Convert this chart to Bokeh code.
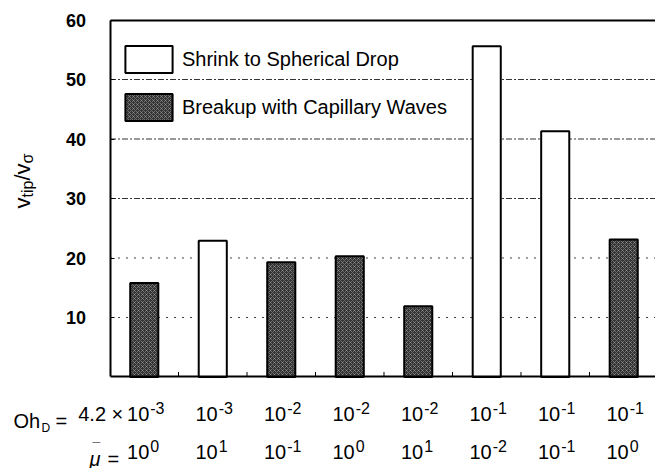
from math import pi
from bokeh.plotting import figure
from bokeh.core.properties import value
from bokeh.models import (ColumnDataSource, Range1d, FixedTicker, LinearAxis, Legend,
                          LegendItem, LabelSet, Label)
from bokeh.embed import file_html
from bokeh.resources import INLINE

# ---------------- data ----------------
SHRINK = "Shrink to Spherical Drop"
BREAK = "Breakup with Capillary Waves"
oh_coef = ["4.2 ×", "", "", "", "", "", "", ""]
oh_exp = ["-3", "-3", "-2", "-2", "-2", "-1", "-1", "-1"]
mu_exp = ["0", "1", "-1", "0", "1", "-2", "-1", "0"]
v_ratio = [15.8, 22.9, 19.3, 20.3, 11.9, 55.6, 41.3, 23.1]
outcome = [BREAK, SHRINK, BREAK, BREAK, BREAK, SHRINK, SHRINK, BREAK]
y_ticks = [10, 20, 30, 40, 50, 60]

n = len(v_ratio)
xs = [i + 0.5 for i in range(n)]
bounds = list(range(1, n))


def subset(kind):
    idx = [i for i in range(n) if outcome[i] == kind]
    return ColumnDataSource(dict(x=[xs[i] for i in idx], top=[v_ratio[i] for i in idx]))


FONT = "Liberation Sans"
XB = (0, n)
YB = (0, y_ticks[-1])

p = figure(width=655, height=468, output_backend="svg", toolbar_location=None,
           x_range=Range1d(-1.599, 7.964), y_range=Range1d(-15.38, 63.28),
           min_border=0, x_axis_type=None, y_axis_type=None)
p.outline_line_color = None
p.background_fill_color = "white"
p.border_fill_color = "white"

# grid lines (limited to the plotting box)
major_g = y_ticks[2:5]
minor_g = y_ticks[:2]
p.segment(x0=[XB[0]] * len(major_g), x1=[XB[1]] * len(major_g), y0=major_g, y1=major_g,
          line_color="#333333", line_dash="6 2 2 2", line_width=1, level="underlay")
p.segment(x0=[XB[0]] * len(minor_g), x1=[XB[1]] * len(minor_g), y0=minor_g, y1=minor_g,
          line_color="#444444", line_dash="2 6", line_width=1, level="underlay")

# inward ticks on the bottom axis, between the bars
p.segment(x0=bounds, x1=bounds, y0=[0] * len(bounds), y1=[0.85] * len(bounds),
          line_color="black", line_width=1)

# axes (placed inside the frame at fixed data locations)
yax = LinearAxis(ticker=FixedTicker(ticks=y_ticks), fixed_location=0, bounds=YB,
                 axis_line_width=2, axis_line_color="black",
                 major_tick_in=4, major_tick_out=0, major_tick_line_color="black",
                 minor_tick_line_color=None,
                 major_label_text_font=FONT, major_label_text_font_style="bold",
                 major_label_text_font_size="18px", major_label_text_color="black",
                 major_label_standoff=24)
p.add_layout(yax, "left")

xax = LinearAxis(ticker=FixedTicker(ticks=[]), fixed_location=0, bounds=XB,
                 axis_line_width=2, axis_line_color="black",
                 major_tick_in=0, major_tick_out=0, minor_tick_line_color=None,
                 major_label_standoff=0)
p.add_layout(xax, "below")

tax = LinearAxis(ticker=FixedTicker(ticks=[]), fixed_location=y_ticks[-1], bounds=XB,
                 axis_line_width=2, axis_line_color="black",
                 major_tick_in=0, major_tick_out=0, minor_tick_line_color=None,
                 major_label_standoff=0)
p.add_layout(tax, "above")

# bars
r_s = p.vbar(x="x", top="top", width=0.41, source=subset(SHRINK), fill_color="white",
             line_color="black", line_width=2)
r_b = p.vbar(x="x", top="top", width=0.41, source=subset(BREAK), fill_color="#333333",
             line_color="black", line_width=2, hatch_pattern="x", hatch_color="#c8c8c8",
             hatch_scale=4, hatch_weight=0.8, hatch_alpha=0.5)

legend = Legend(items=[LegendItem(label=SHRINK, renderers=[r_s]),
                       LegendItem(label=BREAK, renderers=[r_b])],
                location=(119, 344), glyph_width=59, glyph_height=34, label_standoff=4,
                spacing=14, padding=0, margin=0, border_line_color=None,
                background_fill_alpha=0, label_text_font=FONT, label_text_font_size="20px",
                label_text_color="black")
p.add_layout(legend)

# bottom two-row labels
ROW1, ROW2 = 48, 10
lab = ColumnDataSource(dict(x=xs, base=["10"] * n, oh=oh_exp, mu=mu_exp, coef=oh_coef))
common = dict(source=lab, x_units="data", y_units="screen", text_font=value(FONT),
              text_color="black", text_baseline="alphabetic")
p.add_layout(LabelSet(x="x", y=ROW1, text="base", x_offset=5, text_align="right",
                      text_font_size="20px", **common))
p.add_layout(LabelSet(x="x", y=ROW1 + 7, text="oh", x_offset=6, text_align="left",
                      text_font_size="16px", **common))
p.add_layout(LabelSet(x="x", y=ROW2, text="base", x_offset=5, text_align="right",
                      text_font_size="20px", **common))
p.add_layout(LabelSet(x="x", y=ROW2 + 7, text="mu", x_offset=6, text_align="left",
                      text_font_size="16px", **common))
p.add_layout(LabelSet(x="x", y=ROW1, text="coef", x_offset=-21, text_align="right",
                      text_font_size="20px", **common))

lab_kw = dict(x_units="screen", y_units="screen", text_font=FONT, text_color="black",
              text_baseline="alphabetic")
p.add_layout(Label(x=13, y=ROW1, text="Oh", text_font_size="20px", **lab_kw))
p.add_layout(Label(x=41, y=ROW1 - 7, text="D", text_font_size="12px", **lab_kw))
p.add_layout(Label(x=55, y=ROW1, text="=", text_font_size="20px", **lab_kw))
p.add_layout(Label(x=89, y=ROW2, text="\u03bc", text_font_size="20px",
                   text_font_style="italic", **lab_kw))
p.add_layout(Label(x=92, y=ROW2 + 11, text="\u00af", text_font_size="14px", **lab_kw))
p.add_layout(Label(x=107, y=ROW2, text="=", text_font_size="20px", **lab_kw))

# y-axis title pieces: v_tip / v_sigma
ykw = dict(x_units="screen", y_units="screen", angle=pi / 2, text_font=FONT,
           text_color="black", text_baseline="alphabetic", text_align="left")
p.add_layout(Label(x=22, y=260, text="v", text_font_size="22px", **ykw))
p.add_layout(Label(x=27, y=271, text="tip", text_font_size="16px", **ykw))
p.add_layout(Label(x=22, y=288, text="/v", text_font_size="22px", **ykw))
p.add_layout(Label(x=27, y=305, text="\u03c3", text_font_size="16px", **ykw))

open("out.html", "w").write(file_html(p, INLINE))
